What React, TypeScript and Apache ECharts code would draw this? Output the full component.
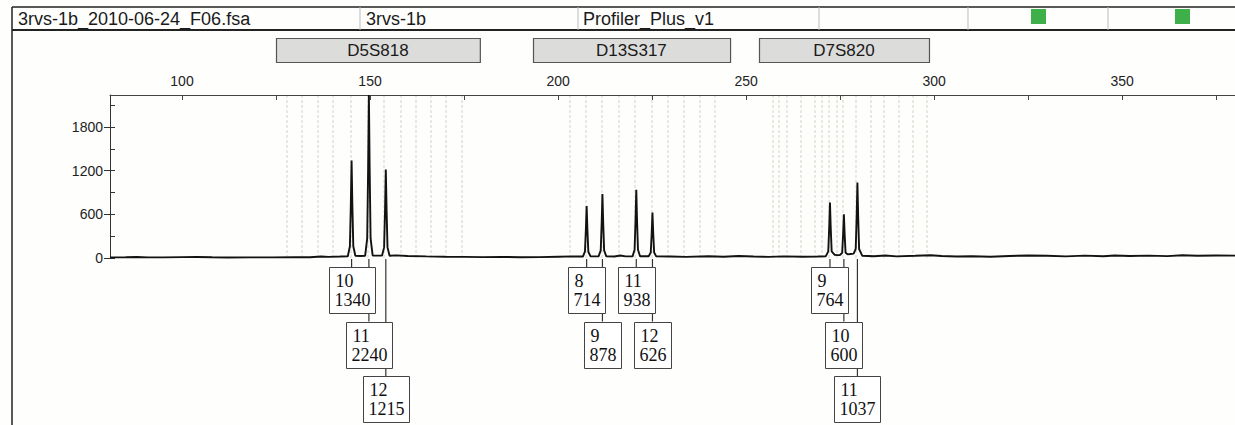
import React, { useEffect, useRef } from 'react';
import * as echarts from 'echarts';

// ---------- data ----------
const headerTexts = ['3rvs-1b_2010-06-24_F06.fsa', '3rvs-1b', 'Profiler_Plus_v1'];

const lociNames = ['D5S818', 'D13S317', 'D7S820'];
const lociStart = [125.0, 193.3, 253.4];
const lociEnd = [179.2, 245.7, 298.6];

const binSizes = [
  127.9, 131.9, 136.2, 140.1, 144.9, 149.5, 153.7, 158.2, 162.2, 166.2, 170.2, 174.4,
  203.2, 207.4, 211.7, 216.2, 220.4, 225.0, 229.2, 233.5, 237.6, 241.7,
  257.0, 258.8, 260.8, 264.5, 268.3, 270.1, 272.1, 274.1, 275.8, 279.2, 283.1, 286.7, 290.5, 294.3, 298.0,
];

const peakSizes = [145.1, 149.7, 154.2, 207.6, 211.8, 220.8, 225.1, 272.3, 276.0, 279.6];
const peakAlleles = [10, 11, 12, 8, 9, 11, 12, 9, 10, 11];
const peakHeights = [1340, 2240, 1215, 714, 878, 938, 626, 764, 600, 1037];
const peakRows = [0, 1, 2, 0, 1, 0, 1, 0, 1, 2];

const xTicks = [100, 125, 150, 175, 200, 225, 250, 275, 300, 325, 350, 375];
const xLabels = [100, 150, 200, 250, 300, 350];
const yTicks = [0, 300, 600, 900, 1200, 1500, 1800, 2100];
const yLabels = [0, 600, 1200, 1800];

// electropherogram trace: [size (bp), RFU]
const trace = [
  [80.9, 8], [85, 11], [88, 14], [91, 9], [95, 8], [100, 12], [104, 14], [108, 10], [112, 7], [118, 9],
  [124, 8], [130, 12], [134, 10], [137, 20], [139, 16], [142, 20],
  [144.1, 25], [144.65, 161], [144.9, 737], [145.1, 1340], [145.3, 737], [145.55, 161], [146.1, 30],
  [147.4, 28],
  [148.7, 30], [149.25, 269], [149.5, 1232], [149.7, 2240], [149.9, 1232], [150.15, 269], [150.7, 35],
  [152, 32],
  [153.2, 35], [153.75, 146], [154.0, 668], [154.2, 1215], [154.4, 668], [154.65, 146], [155.2, 30],
  [157, 36], [160, 28], [165, 22], [170, 18], [175, 15], [180, 12], [185, 15], [190, 10], [195, 12],
  [200, 18], [204, 22],
  [206.6, 20], [207.15, 86], [207.4, 393], [207.6, 714], [207.8, 393], [208.05, 86], [208.6, 25],
  [209.7, 22],
  [210.8, 25], [211.35, 105], [211.6, 483], [211.8, 878], [212.0, 483], [212.25, 105], [212.8, 25],
  [215, 20], [216.5, 35], [218, 22],
  [219.8, 22], [220.35, 113], [220.6, 516], [220.8, 938], [221.0, 516], [221.25, 113], [221.8, 25],
  [223, 24],
  [224.1, 25], [224.65, 75], [224.9, 344], [225.1, 626], [225.3, 344], [225.55, 75], [226.1, 22],
  [230, 20], [234, 15], [240, 25], [244, 18], [248, 28], [252, 20], [256, 15], [260, 22], [265, 18], [269, 20],
  [271.2, 25], [271.85, 92], [272.1, 420], [272.3, 764], [272.5, 420], [272.75, 92], [273.5, 45],
  [274.2, 40],
  [275.0, 42], [275.55, 72], [275.8, 330], [276.0, 600], [276.2, 330], [276.45, 72], [277.0, 50],
  [277.8, 55],
  [278.6, 60], [279.15, 124], [279.4, 570], [279.6, 1037], [279.8, 570], [280.05, 124], [280.9, 30],
  [284, 25], [287, 35], [290, 22], [295, 30], [299, 38], [302, 28], [306, 20], [310, 24], [315, 18],
  [320, 28], [325, 35], [330, 30], [335, 22], [340, 32], [345, 25], [348, 35], [352, 28], [357, 32],
  [362, 26], [366, 38], [370, 30], [375, 34], [380, 32],
];

// ---------- chart ----------
const SANS = '"Liberation Sans", Arial, sans-serif';
const SERIF = '"Liberation Serif", "Times New Roman", serif';
const Y_MAX = 2240;
const ROW_GAP = 54.5;
const BOX_H = 46;

export default function App() {
  const ref = useRef<HTMLDivElement>(null);

  useEffect(() => {
    if (!ref.current) return;
    const chart = echarts.init(ref.current, null, { renderer: 'svg' });

    const peakData = peakSizes.map((s, i) => [s, peakHeights[i], peakAlleles[i], peakRows[i]]);
    const lociData = lociStart.map((s, i) => [s, lociEnd[i]]);

    const dividers = [360, 578, 819, 968, 1108];
    const greens = [1031, 1175];
    const headerX = [18, 366, 583];

    const graphic: any[] = [
      { type: 'line', shape: { x1: 12, y1: 7, x2: 1235, y2: 7 }, style: { stroke: '#222', lineWidth: 1.5 }, silent: true },
      { type: 'line', shape: { x1: 12, y1: 30, x2: 1235, y2: 30 }, style: { stroke: '#222', lineWidth: 2 }, silent: true },
      { type: 'line', shape: { x1: 12, y1: 7, x2: 12, y2: 425 }, style: { stroke: '#222', lineWidth: 1.5 }, silent: true },
      ...dividers.map((x) => ({
        type: 'line', shape: { x1: x, y1: 7, x2: x, y2: 30 }, style: { stroke: '#bbb', lineWidth: 1 }, silent: true,
      })),
      ...greens.map((x) => ({
        type: 'rect', shape: { x, y: 9, width: 15, height: 15 }, style: { fill: '#3db04a' }, silent: true,
      })),
      ...headerTexts.map((t, i) => ({
        type: 'text', x: headerX[i], y: 19,
        style: { text: t, fontSize: 18, fontFamily: SANS, fill: '#1a1a1a', verticalAlign: 'middle', align: 'left' },
        silent: true,
      })),
    ];

    const plain = (v: number) => String(v);

    chart.setOption({
      animation: false,
      backgroundColor: '#fefefd',
      grid: { left: 110, top: 95, right: 0, height: 163 },
      graphic,
      xAxis: {
        type: 'value',
        position: 'top',
        min: 80.86,
        max: 380,
        axisLine: { show: true, onZero: false, lineStyle: { color: '#444', width: 1 } },
        axisTick: { show: true, inside: true, length: 5, customValues: xTicks, lineStyle: { color: '#444' } },
        axisLabel: { customValues: xLabels, formatter: plain, fontSize: 14, fontFamily: SANS, color: '#222', margin: 7 },
        splitLine: { show: false },
      },
      yAxis: [
        {
          type: 'value',
          min: 0,
          max: Y_MAX,
          axisLine: { show: true, onZero: false, lineStyle: { color: '#333', width: 1 } },
          axisTick: { show: true, inside: true, length: 5, customValues: yTicks, lineStyle: { color: '#333' } },
          axisLabel: { customValues: yLabels, formatter: plain, fontSize: 14, fontFamily: SANS, color: '#222', margin: 7 },
          splitLine: { show: false },
        },
        {
          type: 'value',
          min: 0,
          max: Y_MAX,
          position: 'left',
          axisLine: { show: false, onZero: false },
          axisTick: { show: true, inside: false, length: 6, customValues: yLabels, lineStyle: { color: '#333' } },
          axisLabel: { show: false },
          splitLine: { show: false },
        },
      ],
      series: [
        {
          type: 'line',
          name: 'bins',
          data: [[80.9, 0]],
          showSymbol: false,
          lineStyle: { opacity: 0 },
          silent: true,
          z: 0,
          zlevel: 0,
          markLine: {
            silent: true,
            z: 0,
            symbol: ['none', 'none'],
            label: { show: false },
            lineStyle: { color: '#e2e2dc', type: [3, 2], width: 1.5 },
            data: binSizes.map((v) => ({ xAxis: v })),
          },
        },
        {
          type: 'line',
          name: 'trace',
          data: trace,
          showSymbol: false,
          smooth: false,
          lineStyle: { color: '#121212', width: 1.9 },
          z: 6,
        },
        {
          type: 'custom',
          name: 'connectors',
          data: peakData,
          clip: false,
          silent: true,
          z: 4,
          encode: { x: 0, y: 1 },
          renderItem: (params: any, api: any) => {
            const p = api.coord([api.value(0), 0]);
            const row = api.value(3);
            const top = p[1] + 9 + row * ROW_GAP;
            return {
              type: 'line',
              shape: { x1: p[0], y1: p[1] + 1, x2: p[0], y2: top },
              style: { stroke: '#333', lineWidth: 1.2 },
            };
          },
        },
        {
          type: 'custom',
          name: 'labels',
          data: peakData,
          clip: false,
          silent: true,
          z: 5,
          encode: { x: 0, y: 1 },
          renderItem: (params: any, api: any) => {
            const p = api.coord([api.value(0), 0]);
            const h = String(api.value(1));
            const a = String(api.value(2));
            const row = api.value(3);
            const top = p[1] + 9 + row * ROW_GAP;
            const w = 10 + 9 * Math.max(h.length, a.length);
            const left = Math.round(p[0] - w / 2) + 0.5;
            return {
              type: 'group',
              children: [
                { type: 'rect', shape: { x: left, y: Math.round(top) + 0.5, width: w, height: BOX_H }, style: { fill: '#ffffff', stroke: '#444', lineWidth: 1 } },
                { type: 'text', style: { text: a, x: left + 6, y: top + 14, fontSize: 18, fontFamily: SERIF, fill: '#111', verticalAlign: 'middle', align: 'left' } },
                { type: 'text', style: { text: h, x: left + 5, y: top + 33, fontSize: 18, fontFamily: SERIF, fill: '#111', verticalAlign: 'middle', align: 'left' } },
              ],
            };
          },
        },
        {
          type: 'custom',
          name: 'loci',
          data: lociData,
          clip: false,
          silent: true,
          z: 5,
          encode: { x: [0, 1] },
          renderItem: (params: any, api: any) => {
            const a = api.coord([api.value(0), Y_MAX]);
            const b = api.coord([api.value(1), Y_MAX]);
            const top = a[1] - 57;
            return {
              type: 'group',
              children: [
                { type: 'rect', shape: { x: Math.round(a[0]) + 0.5, y: Math.round(top) + 0.5, width: b[0] - a[0], height: 24 }, style: { fill: '#dcdcda', stroke: '#555', lineWidth: 1.2 } },
                { type: 'text', style: { text: lociNames[params.dataIndex], x: (a[0] + b[0]) / 2, y: top + 12.5, fontSize: 17, fontFamily: SANS, fill: '#1a1a1a', align: 'center', verticalAlign: 'middle' } },
              ],
            };
          },
        },
      ],
    });

    return () => chart.dispose();
  }, []);

  return <div ref={ref} style={{ position: 'absolute', left: 0, top: 0, width: 1235, height: 425 }} />;
}
